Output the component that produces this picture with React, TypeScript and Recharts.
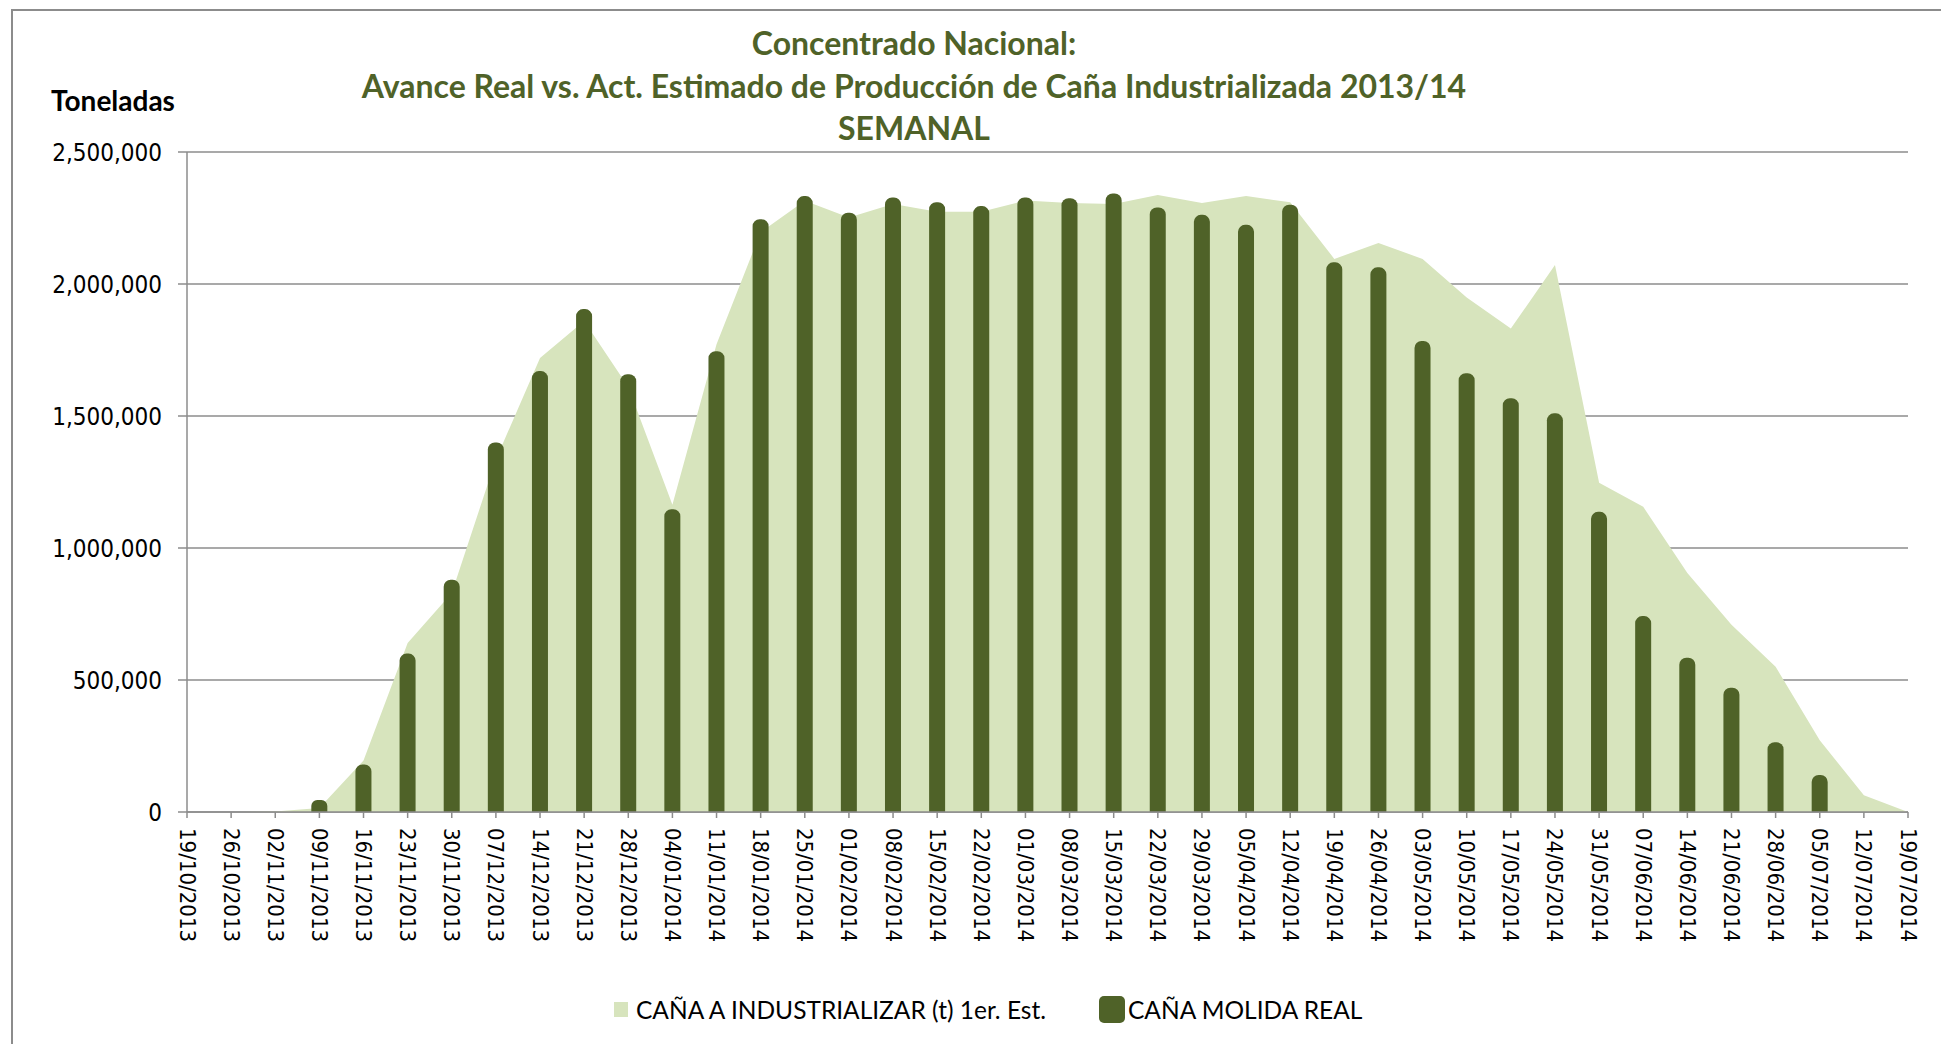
import React from "react";
import {
  ComposedChart,
  CartesianGrid,
  XAxis,
  YAxis,
  Area,
  Bar,
} from "recharts";

// semanas (eje X)
const weeks = [
  "19/10/2013", "26/10/2013", "02/11/2013", "09/11/2013", "16/11/2013",
  "23/11/2013", "30/11/2013", "07/12/2013", "14/12/2013", "21/12/2013",
  "28/12/2013", "04/01/2014", "11/01/2014", "18/01/2014", "25/01/2014",
  "01/02/2014", "08/02/2014", "15/02/2014", "22/02/2014", "01/03/2014",
  "08/03/2014", "15/03/2014", "22/03/2014", "29/03/2014", "05/04/2014",
  "12/04/2014", "19/04/2014", "26/04/2014", "03/05/2014", "10/05/2014",
  "17/05/2014", "24/05/2014", "31/05/2014", "07/06/2014", "14/06/2014",
  "21/06/2014", "28/06/2014", "05/07/2014", "12/07/2014", "19/07/2014",
];

// CAÑA A INDUSTRIALIZAR (t) 1er. Est.
const estimado = [
  0, 0, 2000, 15000, 195000, 640000, 830000, 1335000, 1720000, 1860000,
  1610000, 1164000, 1772000, 2196000, 2315000, 2252000, 2303000, 2274000, 2274000, 2316000,
  2307000, 2303000, 2337000, 2307000, 2333000, 2310000, 2095000, 2155000, 2095000, 1949000,
  1831000, 2072000, 1247000, 1156000, 905000, 709000, 550000, 272000, 63000, 0,
];

// CAÑA MOLIDA REAL
const real = [
  0, 0, 0, 45000, 180000, 600000, 880000, 1400000, 1670000, 1905000,
  1658000, 1147000, 1745000, 2245000, 2333000, 2270000, 2328000, 2310000, 2295000, 2328000,
  2325000, 2343000, 2290000, 2262000, 2224000, 2300000, 2082000, 2063000, 1784000, 1662000,
  1567000, 1510000, 1137000, 742000, 584000, 471000, 264000, 140000, 0, 0,
];

const yTicks = [0, 500000, 1000000, 1500000, 2000000, 2500000];

const data = weeks.map((w, i) => ({
  i,
  week: w,
  estimado: estimado[i],
  real: real[i],
}));

const GREEN_DARK = "#4F6228";
const GREEN_LIGHT = "#D7E4BD";
const GRID = "#8c8c8c";
const AXIS_FONT = "'DejaVu Sans Condensed', 'DejaVu Sans'";

const WeekTick = (props: any) => {
  const { x, y, payload } = props;
  return (
    <text
      transform={`translate(${x},${y}) rotate(90)`}
      textAnchor="start"
      dominantBaseline="central"
      fontFamily={AXIS_FONT}
      fontSize={22}
      fill="#000"
    >
      {weeks[payload.value]}
    </text>
  );
};

const App = () => {
  return (
    <div
      style={{
        position: "absolute",
        left: 0,
        top: 0,
        width: 1941,
        height: 1044,
        background: "#fff",
        overflow: "hidden",
      }}
    >
      <div
        style={{
          position: "absolute",
          left: 11,
          top: 9,
          width: 1960,
          height: 1060,
          border: "2px solid #8c8c8c",
        }}
      />
      <ComposedChart
        width={1941}
        height={1044}
        data={data}
        margin={{ top: 152, right: 33, bottom: 82, left: 0 }}
      >
        <CartesianGrid vertical={false} stroke={GRID} strokeWidth={1.5} />
        <XAxis
          dataKey="i"
          type="number"
          domain={[0, weeks.length - 1]}
          ticks={weeks.map((_, i) => i)}
          interval={0}
          height={150}
          tickSize={6}
          tickMargin={10}
          stroke={GRID}
          strokeWidth={1.5}
          tick={<WeekTick />}
        />
        <YAxis
          width={187}
          domain={[0, 2500000]}
          ticks={yTicks}
          interval={0}
          tickSize={9}
          tickMargin={16}
          stroke={GRID}
          strokeWidth={1.5}
          tick={{ fill: "#000", fontFamily: AXIS_FONT, fontSize: 24 }}
          tickFormatter={(v: number) => v.toLocaleString("en-US")}
        />
        <Area
          type="linear"
          dataKey="estimado"
          fill={GREEN_LIGHT}
          fillOpacity={1}
          stroke="none"
          isAnimationActive={false}
        />
        <Bar
          dataKey="real"
          fill={GREEN_DARK}
          barSize={16}
          radius={[7, 7, 0, 0]}
          isAnimationActive={false}
        />
      </ComposedChart>
      <svg
        width={1941}
        height={1044}
        style={{ position: "absolute", left: 0, top: 0, pointerEvents: "none" }}
      >
        <g fontFamily="Lato" fontWeight="bold" fill={GREEN_DARK} fontSize={32} textAnchor="middle">
          <text x={914} y={42} dominantBaseline="central">Concentrado Nacional:</text>
          <text x={914} y={85} dominantBaseline="central">
            Avance Real vs. Act. Estimado de Producción de Caña Industrializada 2013/14
          </text>
          <text x={914} y={127} dominantBaseline="central">SEMANAL</text>
        </g>
        <text
          x={113}
          y={100}
          textAnchor="middle"
          dominantBaseline="central"
          fontFamily="Lato"
          fontWeight="bold"
          fontSize={28}
          fill="#000"
        >
          Toneladas
        </text>
        <g fontFamily="Lato" fontSize={24.5} fill="#000">
          <rect x={614} y={1002} width={14} height={15} fill={GREEN_LIGHT} />
          <text x={636} y={1009} dominantBaseline="central">
            CAÑA A INDUSTRIALIZAR (t) 1er. Est.
          </text>
          <rect x={1099} y={996} width={26} height={27} rx={5} fill={GREEN_DARK} />
          <text x={1128} y={1009} dominantBaseline="central">
            CAÑA MOLIDA REAL
          </text>
        </g>
      </svg>
    </div>
  );
};

export default App;
